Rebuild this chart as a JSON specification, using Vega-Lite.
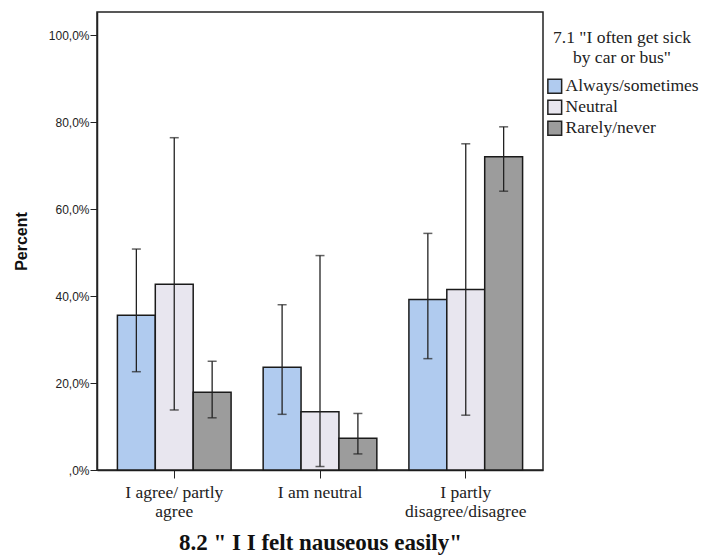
{
  "$schema": "https://vega.github.io/schema/vega-lite/v6.json",
  "autosize": {"type": "none"},
  "padding": {"left": 97, "top": 12, "right": 166, "bottom": 88},
  "width": 446,
  "height": 458,
  "background": "white",
  "config": {
    "view": {"stroke": "#222", "strokeWidth": 1.5},
    "font": "Liberation Serif"
  },
  "data": {
    "values": [
      {"group": "I agree/ partly agree", "cat": "Always/sometimes", "pct": 35.6, "lo": 22.6, "hi": 50.8},
      {"group": "I agree/ partly agree", "cat": "Neutral", "pct": 42.7, "lo": 13.8, "hi": 76.4},
      {"group": "I agree/ partly agree", "cat": "Rarely/never", "pct": 17.9, "lo": 12.0, "hi": 25.0},
      {"group": "I am neutral", "cat": "Always/sometimes", "pct": 23.6, "lo": 12.8, "hi": 38.0},
      {"group": "I am neutral", "cat": "Neutral", "pct": 13.4, "lo": 0.8, "hi": 49.3},
      {"group": "I am neutral", "cat": "Rarely/never", "pct": 7.3, "lo": 3.7, "hi": 13.0},
      {"group": "I partly disagree/disagree", "cat": "Always/sometimes", "pct": 39.2, "lo": 25.6, "hi": 54.4},
      {"group": "I partly disagree/disagree", "cat": "Neutral", "pct": 41.5, "lo": 12.6, "hi": 75.0},
      {"group": "I partly disagree/disagree", "cat": "Rarely/never", "pct": 72.0, "lo": 64.1, "hi": 78.9}
    ]
  },
  "encoding": {
    "x": {
      "field": "group", "type": "nominal", "sort": null,
      "scale": {"paddingInner": 0.22, "paddingOuter": 0.14},
      "axis": {
        "title": "8.2 \" I I felt nauseous easily\"",
        "titleFont": "Liberation Serif", "titleFontSize": 23, "titleFontWeight": "bold", "titleColor": "#111",
        "titlePadding": 12,
        "labelAngle": 0, "labelFont": "Liberation Serif", "labelFontSize": 17.5, "labelColor": "#222",
        "labelExpr": "datum.value == 'I agree/ partly agree' ? ['I agree/ partly', 'agree'] : datum.value == 'I partly disagree/disagree' ? ['I partly', 'disagree/disagree'] : datum.value",
        "labelPadding": 5, "labelLineHeight": 19,
        "tickSize": 8, "tickColor": "#222", "domainColor": "#222", "domainWidth": 1.5
      }
    },
    "xOffset": {"field": "cat", "type": "nominal", "sort": null, "scale": {"paddingInner": 0, "paddingOuter": 0}}
  },
  "layer": [
    {
      "mark": {"type": "bar", "stroke": "#1a1a1a", "strokeWidth": 1.5},
      "encoding": {
        "y": {
          "field": "pct", "type": "quantitative",
          "scale": {"domain": [0, 105.3], "nice": false},
          "axis": {
            "title": "Percent", "titleFont": "Liberation Sans", "titleFontSize": 16, "titleFontWeight": "bold", "titleColor": "#111",
            "titlePadding": 19,
            "values": [0, 20, 40, 60, 80, 100],
            "labelExpr": "datum.value == 0 ? ',0%' : replace(format(datum.value, '.1f'), '.', ',') + '%'",
            "labelFont": "Liberation Sans", "labelFontSize": 12, "labelColor": "#222",
            "labelPadding": 1, "tickSize": 7, "tickColor": "#222", "domainColor": "#222", "domainWidth": 1.5, "grid": false
          }
        },
        "fill": {
          "field": "cat", "type": "nominal", "sort": null,
          "scale": {"domain": ["Always/sometimes", "Neutral", "Rarely/never"], "range": ["#b0cbef", "#e8e6ef", "#9c9c9c"]},
          "legend": {
            "title": ["7.1 \"I often get sick", "by car or bus\""],
            "orient": "none", "legendX": 449, "legendY": 17,
            "titleFont": "Liberation Serif", "titleFontSize": 17.5, "titleFontWeight": "normal", "titleColor": "#222",
            "titleAlign": "center", "titleAnchor": "middle", "titleLineHeight": 20, "titlePadding": 11,
            "labelFont": "Liberation Serif", "labelFontSize": 17.5, "labelColor": "#222", "labelOffset": 2,
            "symbolType": "square", "symbolSize": 190, "symbolStrokeColor": "#222", "symbolStrokeWidth": 1.5,
            "rowPadding": 0
          }
        }
      }
    },
    {
      "mark": {"type": "rule", "color": "#222", "strokeWidth": 1.3},
      "encoding": {
        "y": {"field": "lo", "type": "quantitative"},
        "y2": {"field": "hi"}
      }
    },
    {
      "mark": {"type": "tick", "orient": "horizontal", "color": "#222", "size": 9, "thickness": 1.5},
      "encoding": {"y": {"field": "lo", "type": "quantitative"}}
    },
    {
      "mark": {"type": "tick", "orient": "horizontal", "color": "#222", "size": 9, "thickness": 1.5},
      "encoding": {"y": {"field": "hi", "type": "quantitative"}}
    }
  ]
}
